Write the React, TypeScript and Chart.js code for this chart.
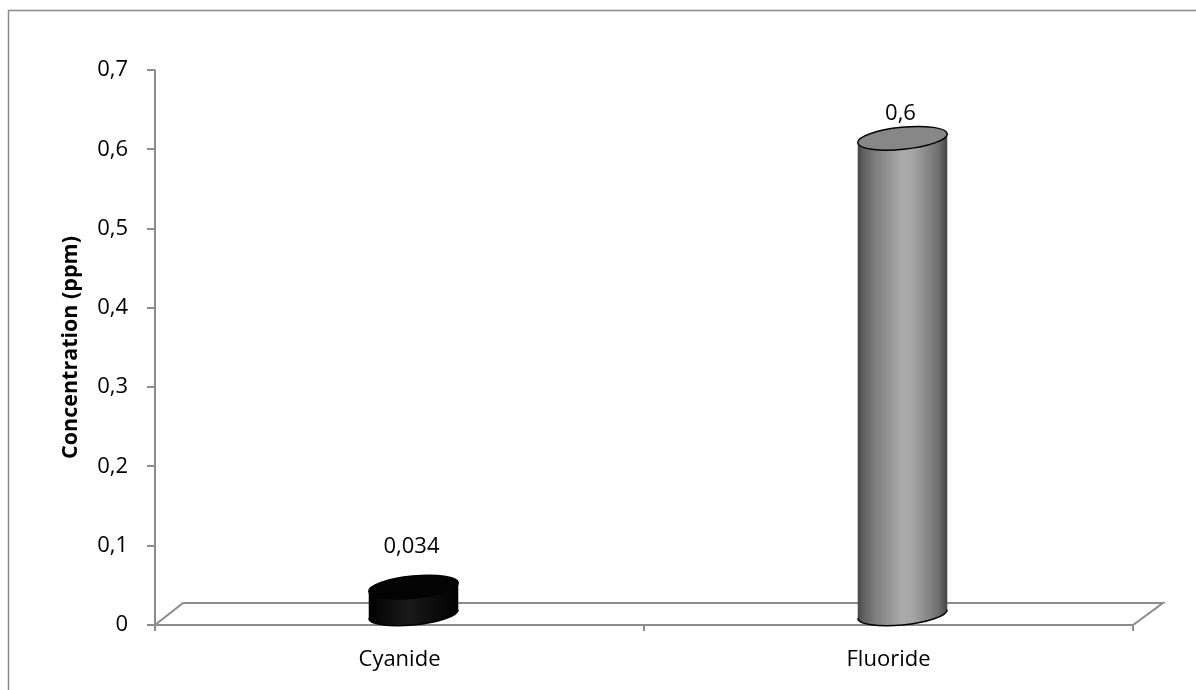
import React, { useEffect, useRef } from 'react';
import { Chart, registerables } from 'chart.js';

Chart.register(...registerables);

const categories: string[] = ['Cyanide', 'Fluoride'];
const concentrations: number[] = [0.034, 0.6];
const valueLabels: string[] = ['0,034', '0,6'];
const yMin = 0;
const yMax = 0.7;
const yStep = 0.1;
const yTitle = 'Concentration (ppm)';

const FONT = "'Open Sans', 'DejaVu Sans', sans-serif";
const AXIS_COLOR = '#8c8c8c';
const DEPTH_X = 28;
const DEPTH_Y = 22;
const ELLIPSE_RY = 11;
const ELLIPSE_ROT = -0.1;

const fmt = (v: number) => {
  if (Math.abs(v) < 1e-9) return '0';
  return v.toFixed(1).replace('.', ',');
};

const cylinderStyles = [
  {
    body: [
      [0, '#000000'],
      [0.45, '#1a1a1a'],
      [0.55, '#141414'],
      [1, '#000000'],
    ],
    top: '#030303',
    outline: '#000000',
  },
  {
    body: [
      [0, '#454545'],
      [0.06, '#5f5f5f'],
      [0.2, '#7d7d7d'],
      [0.5, '#ababab'],
      [0.62, '#a5a5a5'],
      [0.9, '#707070'],
      [1, '#444444'],
    ],
    top: '#878787',
    outline: '#000000',
  },
];

const cylinderPlugin = {
  id: 'cylinder3d',
  beforeDraw(chart: any) {
    const ctx = chart.ctx;
    ctx.save();
    ctx.fillStyle = '#ffffff';
    ctx.fillRect(0, 0, chart.width, chart.height);
    ctx.strokeStyle = '#8a8a8a';
    ctx.lineWidth = 1.5;
    ctx.beginPath();
    ctx.moveTo(8.5, chart.height + 2);
    ctx.lineTo(8.5, 10.5);
    ctx.lineTo(chart.width + 2, 10.5);
    ctx.stroke();
    ctx.restore();
  },
  afterDatasetsDraw(chart: any) {
    const ctx = chart.ctx;
    const { left, right, top, bottom } = chart.chartArea;
    const ys = chart.scales.y;
    const xs = chart.scales.x;

    ctx.save();
    ctx.strokeStyle = AXIS_COLOR;
    ctx.lineWidth = 2;
    ctx.lineCap = 'butt';
    ctx.beginPath();
    ctx.moveTo(left, top);
    ctx.lineTo(left, bottom + 6);
    ctx.stroke();
    ys.ticks.forEach((t: any) => {
      const py = Math.round(ys.getPixelForValue(t.value));
      ctx.beginPath();
      ctx.moveTo(left - 8, py);
      ctx.lineTo(left, py);
      ctx.stroke();
    });
    ctx.beginPath();
    ctx.moveTo(left, bottom);
    ctx.lineTo(right, bottom);
    ctx.lineTo(right + DEPTH_X + 2, bottom - DEPTH_Y);
    ctx.lineTo(left + DEPTH_X, bottom - DEPTH_Y);
    ctx.closePath();
    ctx.stroke();
    const n = xs.ticks.length;
    const cw = (right - left) / n;
    for (let i = 0; i <= n; i++) {
      const px = left + i * cw;
      ctx.beginPath();
      ctx.moveTo(px, bottom);
      ctx.lineTo(px, bottom + 6);
      ctx.stroke();
    }
    ctx.restore();

    const meta = chart.getDatasetMeta(0);
    meta.data.forEach((bar: any, i: number) => {
      const style = cylinderStyles[i % cylinderStyles.length];
      const cx = bar.x + DEPTH_X / 2;
      const cyTop = bar.y - DEPTH_Y / 2;
      const cyBot = bar.base - DEPTH_Y / 2;
      const rx = bar.width / 2;
      const ry = ELLIPSE_RY;
      const th = ELLIPSE_ROT;
      const t0 = Math.atan2(-ry * Math.sin(th), rx * Math.cos(th));
      const px = (t: number) => rx * Math.cos(t) * Math.cos(th) - ry * Math.sin(t) * Math.sin(th);
      const py = (t: number) => rx * Math.cos(t) * Math.sin(th) + ry * Math.sin(t) * Math.cos(th);
      const rX = cx + px(t0);
      const lX = cx + px(t0 + Math.PI);
      const grad = ctx.createLinearGradient(lX, 0, rX, 0);
      style.body.forEach(([o, c]: any) => grad.addColorStop(o, c));

      ctx.save();
      ctx.beginPath();
      ctx.moveTo(lX, cyTop + py(t0 + Math.PI));
      ctx.lineTo(lX, cyBot + py(t0 + Math.PI));
      ctx.ellipse(cx, cyBot, rx, ry, th, t0 + Math.PI, t0, true);
      ctx.lineTo(rX, cyTop + py(t0));
      ctx.ellipse(cx, cyTop, rx, ry, th, t0, t0 + Math.PI, false);
      ctx.closePath();
      ctx.fillStyle = grad;
      ctx.fill();
      ctx.beginPath();
      ctx.ellipse(cx, cyBot, rx, ry, th, t0 + Math.PI, t0, true);
      ctx.strokeStyle = style.outline;
      ctx.lineWidth = 1.5;
      ctx.stroke();
      ctx.beginPath();
      ctx.ellipse(cx, cyTop, rx, ry, th, 0, Math.PI * 2);
      ctx.fillStyle = style.top;
      ctx.fill();
      ctx.strokeStyle = style.outline;
      ctx.lineWidth = 1.5;
      ctx.stroke();
      ctx.restore();

      const ext = Math.sqrt(Math.pow(rx * Math.sin(th), 2) + Math.pow(ry * Math.cos(th), 2));
      const topEdge = cyTop - ext;
      const ly = Math.min(topEdge - 13, bar.base - 78);
      ctx.save();
      ctx.font = `22px ${FONT}`;
      ctx.fillStyle = '#000000';
      ctx.textAlign = 'center';
      ctx.textBaseline = 'middle';
      ctx.fillText(valueLabels[i], bar.x + 12, ly);
      ctx.restore();
    });
  },
};

export default function App() {
  const ref = useRef<HTMLCanvasElement | null>(null);
  useEffect(() => {
    if (!ref.current) return;
    const chart = new Chart(ref.current, {
      type: 'bar',
      data: {
        labels: categories,
        datasets: [
          {
            label: yTitle,
            data: concentrations,
            backgroundColor: 'rgba(0,0,0,0)',
            borderWidth: 0,
            categoryPercentage: 1,
            barPercentage: 0.184,
          },
        ],
      },
      options: {
        responsive: false,
        animation: false,
        devicePixelRatio: 1,
        layout: { padding: { top: 70, right: 63, bottom: 0, left: 0 } },
        plugins: { legend: { display: false }, tooltip: { enabled: false } },
        scales: {
          x: {
            grid: { display: false, drawTicks: false },
            border: { display: false },
            ticks: { color: '#000', font: { family: FONT, size: 22 }, padding: 22 },
            afterFit: (s: any) => {
              s.height = 65;
            },
          },
          y: {
            min: yMin,
            max: yMax,
            grid: { display: false, drawTicks: false },
            border: { display: false },
            ticks: {
              stepSize: yStep,
              color: '#000',
              font: { family: FONT, size: 22 },
              padding: 27,
              callback: (v: any) => fmt(Number(v)),
            },
            title: {
              display: true,
              text: yTitle,
              color: '#000',
              font: { family: FONT, size: 21.5, weight: 'bold' },
              padding: { top: 58, bottom: 0 },
            },
            afterFit: (s: any) => {
              s.width = 155;
            },
          },
        },
      },
      plugins: [cylinderPlugin],
    });
    return () => chart.destroy();
  }, []);
  return (
    <div style={{ position: 'fixed', left: 0, top: 0, width: 1196, height: 690, background: '#fff' }}>
      <canvas ref={ref} width={1196} height={690} style={{ display: 'block' }} />
    </div>
  );
}
